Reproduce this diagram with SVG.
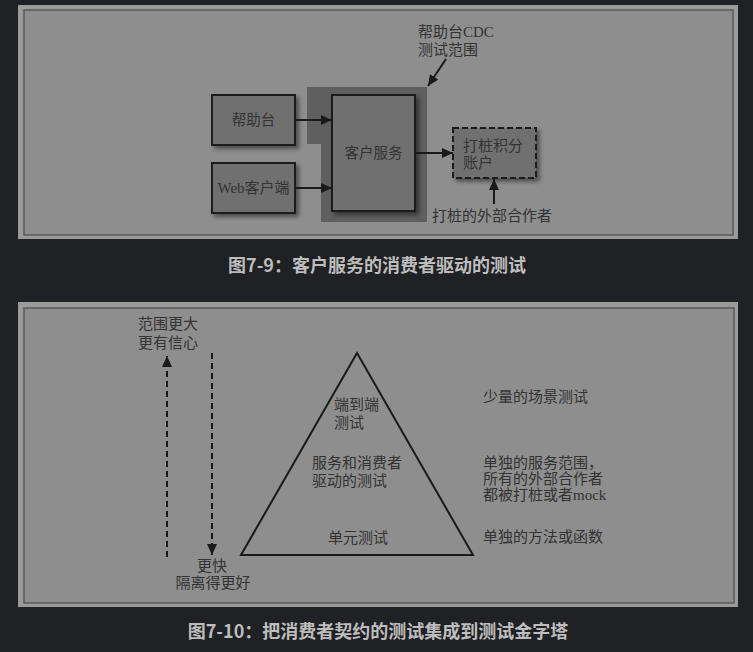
<svg xmlns="http://www.w3.org/2000/svg" width="753" height="652" viewBox="0 0 753 652">
<style>
.panelOuter{fill:#9a9a9a}
.panelInner{fill:#8e8e8e;stroke:#5a5a5a;stroke-width:1.5}
.box{fill:#707070;stroke:#1e1e1e;stroke-width:2}
.stub{fill:#707070;stroke:#1e1e1e;stroke-width:2;stroke-dasharray:6 3}
.scope{fill:#5f5f5f}
.t{font-family:"Liberation Serif","Noto Sans CJK SC",serif;font-size:15px;fill:#333333}
.tb{font-family:"Liberation Serif","Noto Sans CJK SC",serif;font-size:14.5px;fill:#333333}
.cap{font-family:"Noto Sans CJK SC","Liberation Sans",sans-serif;font-size:18px;font-weight:bold;fill:#bdbdbd}
.conn{stroke:#1a1a1a;stroke-width:2;fill:none}
.dash{stroke:#1a1a1a;stroke-width:2;fill:none;stroke-dasharray:6 4}
.mid{text-anchor:middle}
</style>
<defs>
<filter id="sh" x="-20%" y="-20%" width="150%" height="150%">
<feDropShadow dx="3" dy="3" stdDeviation="2" flood-color="#000" flood-opacity="0.45"/>
</filter>
<marker id="ah" markerUnits="userSpaceOnUse" markerWidth="12" markerHeight="10" refX="11" refY="5" orient="auto">
<path d="M0,0 L11,5 L0,10 z" fill="#1a1a1a"/>
</marker>
</defs>
<rect x="0" y="0" width="753" height="652" fill="#202124"/>

<g id="panel1">
<rect class="panelOuter" x="18" y="5" width="720" height="234"/>
<rect class="panelInner" x="24" y="10" width="709" height="225"/>
</g>
<g id="scope">
<polygon class="scope" points="307,87 427,87 427,222 321,222 321,144 307,144"/>
</g>
<g id="helpdesk">
<rect class="box" x="212" y="95" width="83" height="50" filter="url(#sh)"/>
<text class="tb mid" x="253.5" y="125">帮助台</text>
</g>
<g id="webclient">
<rect class="box" x="212" y="163" width="83" height="50" filter="url(#sh)"/>
<text class="tb mid" x="253.5" y="193" textLength="72" lengthAdjust="spacingAndGlyphs">Web客户端</text>
</g>
<g id="customer-service">
<rect class="box" x="332" y="95" width="83" height="116" filter="url(#sh)"/>
<text class="tb mid" x="373.5" y="158">客户服务</text>
</g>
<g id="stub-points">
<rect class="stub" x="453" y="128" width="83" height="50" filter="url(#sh)"/>
<text class="t" x="463" y="151">打桩积分</text>
<text class="t" x="463" y="168">账户</text>
</g>
<g id="label-cdc">
<text class="t" x="418" y="37">帮助台CDC</text>
<text class="t" x="418" y="55">测试范围</text>
</g>
<g id="label-stub">
<text class="t" x="432" y="221">打桩的外部合作者</text>
</g>
<g id="connectors1">
<line class="conn" x1="295" y1="120" x2="332" y2="120" marker-end="url(#ah)"/>
<line class="conn" x1="295" y1="188" x2="332" y2="188" marker-end="url(#ah)"/>
<line class="conn" x1="415" y1="153" x2="453" y2="153" marker-end="url(#ah)"/>
<line class="conn" x1="494" y1="204" x2="494" y2="179" marker-end="url(#ah)"/>
<line class="conn" x1="446" y1="59" x2="428" y2="86" marker-end="url(#ah)"/>
</g>
<text class="cap mid" x="377" y="272">图7-9：客户服务的消费者驱动的测试</text>

<g id="panel2">
<rect class="panelOuter" x="18" y="302" width="720" height="305"/>
<rect class="panelInner" x="24" y="308" width="710" height="295"/>
</g>
<g id="pyramid">
<polygon class="conn" points="357,353 241,555 473,555"/>
<text class="t" x="334" y="410">端到端</text>
<text class="t" x="334" y="428">测试</text>
<text class="t" x="312" y="468">服务和消费者</text>
<text class="t" x="312" y="486">驱动的测试</text>
<text class="t" x="328" y="543">单元测试</text>
</g>
<g id="label-scope">
<text class="t mid" x="168" y="329">范围更大</text>
<text class="t mid" x="168" y="348">更有信心</text>
</g>
<g id="label-fast">
<text class="t mid" x="212" y="571">更快</text>
<text class="t mid" x="213" y="588">隔离得更好</text>
</g>
<g id="descriptions">
<text class="t" x="483" y="402">少量的场景测试</text>
<text class="t" x="483" y="468">单独的服务范围，</text>
<text class="t" x="483" y="484">所有的外部合作者</text>
<text class="t" x="483" y="500">都被打桩或者mock</text>
<text class="t" x="483" y="542">单独的方法或函数</text>
</g>
<g id="connectors2">
<line class="dash" x1="167" y1="557" x2="167" y2="356" marker-end="url(#ah)"/>
<line class="dash" x1="212" y1="353" x2="212" y2="555" marker-end="url(#ah)"/>
</g>
<text class="cap mid" x="378" y="638">图7-10：把消费者契约的测试集成到测试金字塔</text>
</svg>
